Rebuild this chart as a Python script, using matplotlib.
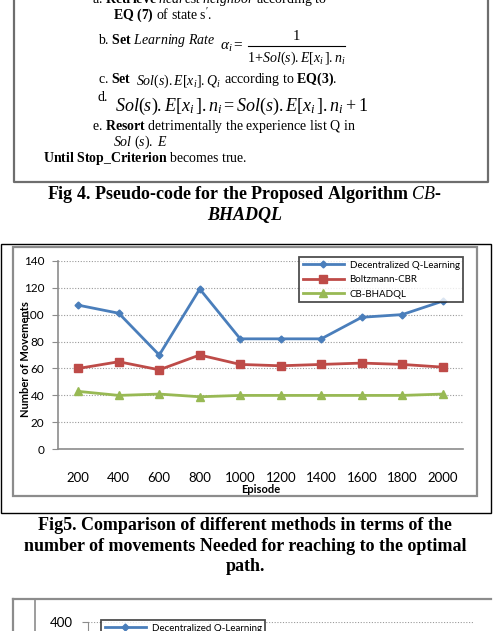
import matplotlib
matplotlib.use("Agg")
import matplotlib.pyplot as plt
from matplotlib.patches import Rectangle
from matplotlib.lines import Line2D

# data
episodes = ["200", "400", "600", "800", "1000", "1200", "1400", "1600", "1800", "2000"]
decentralized_q = [107, 101, 70, 119, 82, 82, 82, 98, 100, 110]
boltzmann_cbr = [60, 65, 59, 70, 63, 62, 63, 64, 63, 61]
cb_bhadql = [43, 40, 41, 39, 40, 40, 40, 40, 40, 41]
series_names = ["Decentralized Q-Learning", "Boltzmann-CBR", "CB-BHADQL"]

BLUE = "#4a7ebb"
RED = "#be4b48"
GREEN = "#98b954"

W, H = 495, 631
plt.rcParams["font.family"] = ["Liberation Serif", "DejaVu Serif"]
plt.rcParams["mathtext.fontset"] = "custom"
plt.rcParams["mathtext.rm"] = "Liberation Serif"
plt.rcParams["mathtext.it"] = "Liberation Serif:italic"
plt.rcParams["mathtext.bf"] = "Liberation Serif:bold"


def fx(x):
    return x / W


def fy(y):
    return 1 - y / H


fig = plt.figure(figsize=(W / 100, H / 100), dpi=100)

# ---- pseudo-code box (top, cut off) ----
fig.add_artist(Line2D([fx(14), fx(14), fx(488), fx(488)],
                      [fy(-5), fy(182), fy(182), fy(-5)],
                      color="#6e6e6e", lw=1.6))

body = 10
def line(x, y, s, size=body, **kw):
    fig.text(fx(x), fy(y), s, fontsize=size, va="baseline", ha="left", **kw)

line(92, 3, r"a. $\mathbf{Retrieve}$ $\mathit{nearest\ neighbor}$ according to")
line(113, 20, r"$\mathbf{EQ\ (7)}$ of state s$\mathit{'}$.")
line(98, 44, r"b. $\mathbf{Set}$ $\mathit{Learning\ Rate}$")
# learning-rate fraction
line(220, 50, r"$\alpha_i =$", size=11)
fig.text(fx(296), fy(40), "1", fontsize=10.5, ha="center", va="baseline")
fig.add_artist(Line2D([fx(248), fx(345)], [fy(46), fy(46)], color="black", lw=0.8))
fig.text(fx(296), fy(62), r"$1\!+\!Sol(s).E[x_i\,].n_i$", fontsize=10, ha="center", va="baseline")
line(98, 83, r"c. $\mathbf{Set}$")
line(136, 85, r"$Sol(s).E[x_i].Q_i$", size=10)
line(224, 83, r"according to $\mathbf{EQ(3)}$.")
line(98, 101, "d.")
line(115, 111, r"$Sol(s).E[x_i\,].n_i = Sol(s).E[x_i\,].n_i + 1$", size=13)
line(92, 130, r"e. $\mathbf{Resort}$ detrimentally the experience list Q in")
line(113, 146, r"$\mathit{Sol\ (s).\ E}$")
line(43, 162, r"$\mathbf{Until\ Stop\_Criterion}$ becomes true.")

cap = 13
fig.text(fx(245), fy(199), r"Fig 4. Pseudo-code for the Proposed Algorithm $\mathit{CB}$-",
         fontsize=cap, fontweight="bold", ha="center", va="baseline")
fig.text(fx(245), fy(220), "BHADQL", fontsize=cap, fontweight="bold",
         fontstyle="italic", ha="center", va="baseline")

# ---- chart frames ----
fig.add_artist(Rectangle((fx(0.5), fy(513)), fx(490.5), fy(244) - fy(513),
                         fill=False, ec="black", lw=1.0))
fig.add_artist(Rectangle((fx(13), fy(496)), fx(477 - 13), fy(247) - fy(496),
                         fill=False, ec="#8c8c8c", lw=1.6))

# ---- main chart ----
cfont = ["Lato", "DejaVu Sans"]
ax = fig.add_axes([fx(58), fy(449.3), fx(463 - 58), fy(260.7) - fy(449.3)])
x = range(len(episodes))
ax.plot(x, decentralized_q, color=BLUE, lw=2, marker="D", ms=3.5, label=series_names[0])
ax.plot(x, boltzmann_cbr, color=RED, lw=2, marker="s", ms=6, label=series_names[1])
ax.plot(x, cb_bhadql, color=GREEN, lw=2, marker="^", ms=6, label=series_names[2])
ax.set_xlim(-0.5, len(episodes) - 0.5)
ax.set_ylim(0, 140)
ax.set_yticks(range(0, 141, 20))
ax.set_xticks(list(x))
ax.set_xticklabels(episodes, family=cfont, fontsize=9.5)
for t in ax.get_yticklabels():
    t.set_family(cfont)
    t.set_fontsize(8.5)
ax.tick_params(axis="x", length=0, pad=16)
ax.tick_params(axis="y", length=4, color="#8c8c8c", pad=6)
ax.grid(axis="y", ls=(0, (1, 1.5)), color="#9a9a9a", lw=0.8)
ax.set_axisbelow(True)
for s in ["top", "right"]:
    ax.spines[s].set_visible(False)
for s in ["left", "bottom"]:
    ax.spines[s].set_color("#8c8c8c")
    ax.spines[s].set_linewidth(1.2)
ax.set_xlabel("Episode", family=cfont, fontsize=8, fontweight="bold", labelpad=0)
ax.set_ylabel("Number of Movements", family=cfont, fontsize=8, fontweight="bold")
ax.yaxis.set_label_coords((31 - 58) / 405, 0.48)
leg = ax.legend(loc="upper left", bbox_to_anchor=(fx(299), fy(257)),
                bbox_transform=fig.transFigure, prop={"family": cfont, "size": 7},
                fancybox=False, edgecolor="#222222", handlelength=4.2,
                borderaxespad=0, labelspacing=0.55, borderpad=0.4, handletextpad=0.6)
leg.get_frame().set_linewidth(1.3)

fig.text(fx(245), fy(530), "Fig5. Comparison of different methods in terms of the",
         fontsize=cap, fontweight="bold", ha="center", va="baseline")
fig.text(fx(245), fy(551), "number of movements Needed for reaching to the optimal",
         fontsize=cap, fontweight="bold", ha="center", va="baseline")
fig.text(fx(245), fy(571), "path.", fontsize=cap, fontweight="bold",
         ha="center", va="baseline")

# ---- next chart, cut off at the bottom ----
fig.add_artist(Line2D([fx(13), fx(491)], [fy(599), fy(599)], color="#8c8c8c", lw=1.6))
fig.add_artist(Line2D([fx(13), fx(13)], [fy(599), fy(640)], color="#8c8c8c", lw=1.6))
fig.add_artist(Line2D([fx(35), fx(35)], [fy(599), fy(640)], color="#8c8c8c", lw=1.2))
ax2 = fig.add_axes([fx(88), fy(622) - 0.3, fx(473 - 88), 0.3])
ax2.set_ylim(0, 400)
ax2.set_yticks([400])
ax2.set_xticks([])
ax2.set_yticklabels(["400"], family=cfont, fontsize=9.5)
ax2.tick_params(axis="y", length=4, color="#8c8c8c", pad=7)
ax2.grid(axis="y", ls=(0, (1, 1.5)), color="#9a9a9a", lw=0.8)
for s in ["top", "right", "bottom"]:
    ax2.spines[s].set_visible(False)
ax2.spines["left"].set_color("#8c8c8c")
handles = [
    Line2D([], [], color=BLUE, lw=2, marker="D", ms=3.5),
    Line2D([], [], color=RED, lw=2, marker="s", ms=6),
    Line2D([], [], color=GREEN, lw=2, marker="^", ms=6),
]
leg2 = ax2.legend(handles, series_names, loc="upper left", bbox_to_anchor=(fx(101), fy(620)),
                  bbox_transform=fig.transFigure, prop={"family": cfont, "size": 7},
                  fancybox=False, edgecolor="#222222", handlelength=4.2,
                  borderaxespad=0, labelspacing=0.55, borderpad=0.4, handletextpad=0.6)
leg2.get_frame().set_linewidth(1.3)

fig.savefig("out.png", dpi=100)
